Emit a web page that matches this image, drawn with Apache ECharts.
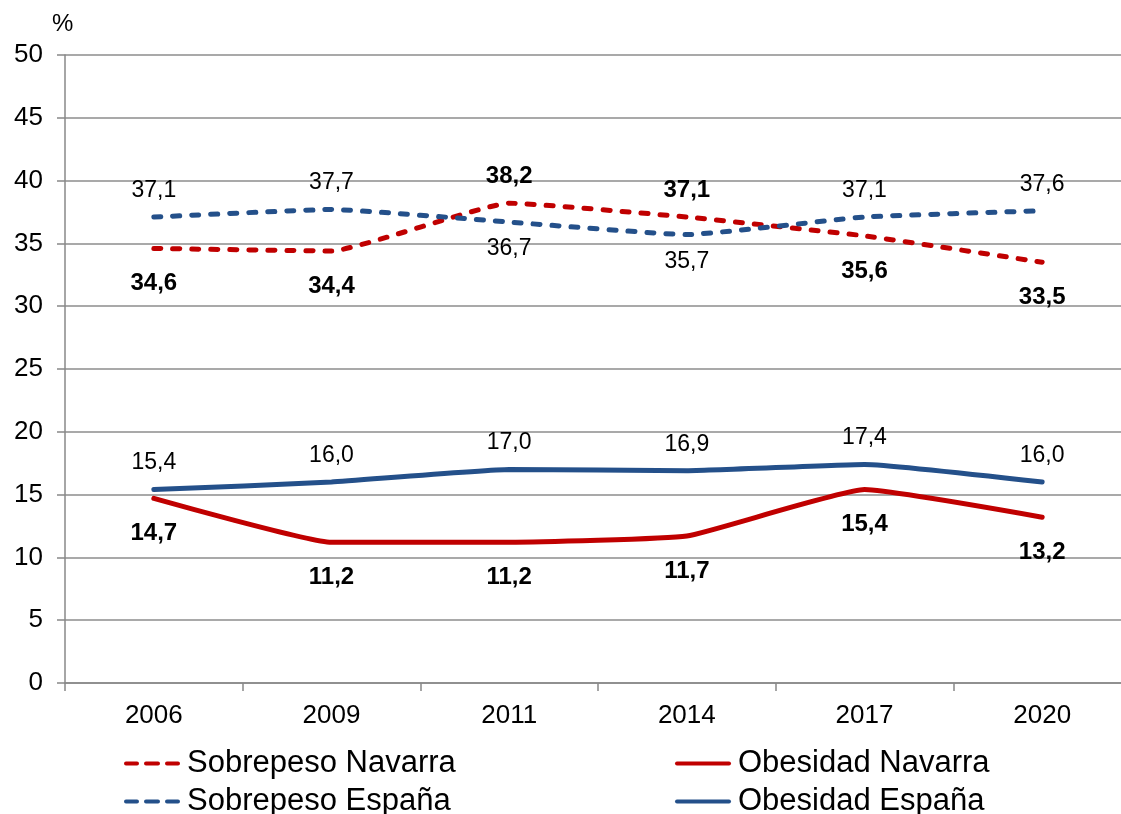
<!DOCTYPE html>
<html>
<head>
<meta charset="utf-8">
<script src="https://cdn.jsdelivr.net/npm/echarts@6/dist/echarts.min.js"></script>
<style>
  html, body { margin: 0; padding: 0; background: #fff; overflow: hidden; }
  /* el grafico original corta el area de trazado por la derecha */
  #chart { width: 1140px; height: 814px; }
</style>
</head>
<body>
<div id="chart"></div>
<script>
// datos
var years = ['2006', '2009', '2011', '2014', '2017', '2020'];
var sobrepesoNavarra = [34.6, 34.4, 38.2, 37.1, 35.6, 33.5];
var sobrepesoEspana = [37.1, 37.7, 36.7, 35.7, 37.1, 37.6];
var obesidadNavarra = [14.7, 11.2, 11.2, 11.7, 15.4, 13.2];
var obesidadEspana = [15.4, 16.0, 17.0, 16.9, 17.4, 16.0];
var yTicks = [0, 5, 10, 15, 20, 25, 30, 35, 40, 45, 50];

var RED = '#c00000';
var BLUE = '#24508a';
var FONT = '"Liberation Sans", Arial, sans-serif';
// iconos de la leyenda
var DASH_ICON = 'path://M2,0h11a2,2 0 0 1 0,4h-11a2,2 0 0 1 0,-4z M22,0h12a2,2 0 0 1 0,4h-12a2,2 0 0 1 0,-4z M43,0h11a2,2 0 0 1 0,4h-11a2,2 0 0 1 0,-4z';
var SOLID_ICON = 'path://M2,0h52a2,2 0 0 1 0,4h-52a2,2 0 0 1 0,-4z';

function fmt(p) {
    return p.value.toFixed(1).replace('.', ',');
}

// etiqueta arriba o abajo segun cual de las dos lineas va por encima
function withLabels(values, other) {
    return values.map(function (v, i) {
        return {
            value: v,
            label: { position: v >= other[i] ? 'top' : 'bottom' }
        };
    });
}

function lineSeries(name, values, other, color, dashed, bold) {
    var data = withLabels(values, other);
    if (bold) {
        // las negritas de abajo van algo mas separadas
        data.forEach(function (d) {
            if (d.label.position === 'bottom') d.label.distance = 23;
        });
    }
    return {
        name: name,
        type: 'line',
        data: data,
        smooth: 0.12,
        symbol: 'circle',
        symbolSize: 0.1,
        showSymbol: true,
        lineStyle: {
            color: color,
            width: 5,
            type: dashed ? [7, 12] : 'solid',
            cap: 'round'
        },
        itemStyle: { color: color },
        label: {
            show: true,
            formatter: fmt,
            color: '#000',
            fontFamily: FONT,
            fontSize: bold ? 24 : 23,
            fontWeight: bold ? 'bold' : 'normal',
            distance: 15
        },
        z: dashed ? 3 : 4
    };
}

function legendAt(name, icon, left, top) {
    return {
        data: [{ name: name, icon: icon }],
        left: left,
        top: top,
        itemWidth: 56,
        itemHeight: 5,
        itemGap: 0,
        textStyle: { fontFamily: FONT, fontSize: 31, color: '#000', padding: [0, 0, 0, 2] },
        selectedMode: false
    };
}

var myCharts = echarts.init(document.getElementById('chart'));
var options = {
    animation: false,
    backgroundColor: '#fff',
    grid: { left: 65, top: 55, height: 628, width: 1066 },
    graphic: [{
        type: 'text',
        left: 52,
        top: 12,
        style: { text: '%', font: '24px ' + FONT, fill: '#000' }
    }],
    legend: [
        legendAt('Sobrepeso Navarra', DASH_ICON, 119, 743),
        legendAt('Sobrepeso España', DASH_ICON, 119, 781),
        legendAt('Obesidad Navarra', SOLID_ICON, 670, 743),
        legendAt('Obesidad España', SOLID_ICON, 670, 781)
    ],
    xAxis: {
        type: 'category',
        data: years,
        boundaryGap: true,
        axisLine: { lineStyle: { color: '#888', width: 1.5 } },
        axisTick: { show: true, length: 8, lineStyle: { color: '#888', width: 1.5 } },
        axisLabel: { color: '#000', fontFamily: FONT, fontSize: 26, margin: 20 }
    },
    yAxis: {
        type: 'value',
        min: yTicks[0],
        max: yTicks[yTicks.length - 1],
        interval: yTicks[1] - yTicks[0],
        axisLine: { show: true, lineStyle: { color: '#888', width: 1.5 } },
        axisTick: { show: true, length: 8, lineStyle: { color: '#888', width: 1.5 } },
        axisLabel: { color: '#000', fontFamily: FONT, fontSize: 26, margin: 22 },
        splitLine: { lineStyle: { color: '#8c8c8c', width: 1.5 } }
    },
    series: [
        lineSeries('Sobrepeso Navarra', sobrepesoNavarra, sobrepesoEspana, RED, true, true),
        lineSeries('Sobrepeso España', sobrepesoEspana, sobrepesoNavarra, BLUE, true, false),
        lineSeries('Obesidad Navarra', obesidadNavarra, obesidadEspana, RED, false, true),
        lineSeries('Obesidad España', obesidadEspana, obesidadNavarra, BLUE, false, false)
    ]
};
myCharts.setOption(options);
</script>
</body>
</html>
